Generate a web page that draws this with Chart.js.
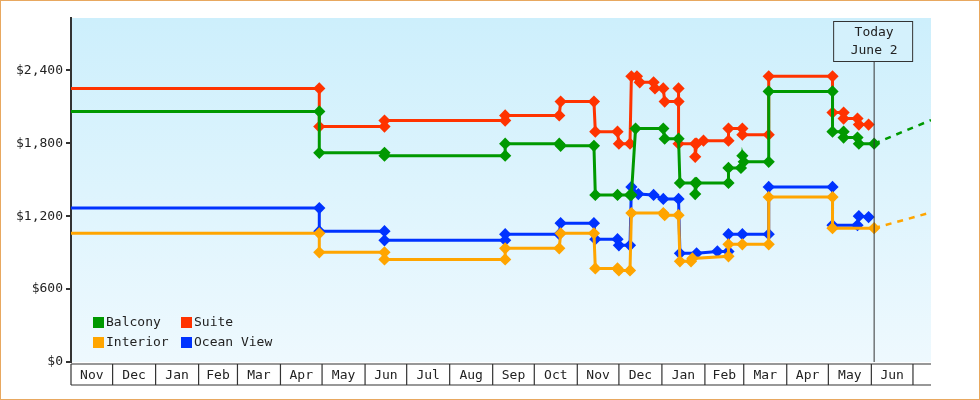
<!DOCTYPE html>
<html><head><meta charset="utf-8">
<script src="https://cdn.jsdelivr.net/npm/chart.js"></script>
<style>html,body{margin:0;padding:0;background:#fff}#w{width:978px;height:398px;border:1px solid #e8a860;position:relative}</style>
</head><body><div id="w"><canvas id="c" width="978" height="398"></canvas></div>
<script>
// x = days since Nov 1 of the first year, y = price in dollars
const monthLabels = ["Nov","Dec","Jan","Feb","Mar","Apr","May","Jun","Jul","Aug","Sep","Oct","Nov","Dec","Jan","Feb","Mar","Apr","May","Jun"];
const monthStarts = [0,30,61,92,120,151,181,212,242,273,304,334,365,395,426,457,485,516,546,577,607];
const todayDay = 579;
const balcony = [[0,2061],[179,2061],[179,1721],[226,1721],[226,1697],[313,1697],[313,1796],[352,1796],[353,1779],[377,1779],[378,1374],[394,1374],[403,1374],[404,1374],[407,1920],[427,1920],[428,1837],[438,1837],[439,1473],[450,1473],[450,1382],[451,1473],[474,1473],[474,1597],[483,1597],[484,1697],[485,1647],[503,1647],[503,2226],[549,2226],[549,1895],[557,1895],[557,1846],[567,1846],[568,1796],[579,1796]];
const suite = [[0,2251],[179,2251],[179,1937],[226,1937],[226,1986],[313,1986],[313,2028],[352,2028],[353,2143],[377,2143],[378,1895],[394,1895],[395,1796],[403,1796],[404,2350],[408,2350],[410,2301],[420,2301],[421,2251],[427,2251],[428,2143],[438,2143],[438,2251],[438,1796],[450,1796],[450,1688],[451,1796],[456,1821],[474,1821],[474,1920],[484,1920],[484,1870],[503,1870],[503,2350],[549,2350],[549,2052],[557,2052],[557,2003],[567,2003],[568,1953],[575,1953]];
const oceanView = [[0,1266],[179,1266],[179,1076],[226,1076],[226,1001],[313,1001],[313,1051],[352,1051],[353,1142],[377,1142],[378,1010],[394,1010],[395,960],[403,960],[404,1440],[409,1382],[420,1374],[427,1341],[438,1341],[439,894],[451,894],[466,910],[474,910],[474,1051],[484,1051],[503,1051],[503,1440],[549,1440],[549,1126],[567,1126],[568,1200],[575,1192]];
const interior = [[0,1059],[179,1059],[179,902],[226,902],[226,844],[313,844],[313,935],[352,935],[353,1059],[377,1059],[378,770],[394,770],[395,753],[403,753],[404,1225],[427,1225],[428,1208],[438,1208],[439,828],[447,828],[448,852],[474,869],[474,968],[484,968],[503,968],[503,1357],[549,1357],[549,1101],[579,1101]];
const balconyProj = [[579,1796],[620,1990]];
const interiorProj = [[579,1101],[620,1230]];
const yTicks = [0,600,1200,1800,2400];

const FONT = "'DejaVu Sans Mono', monospace";
const pts = a => a.map(p => ({x:p[0], y:p[1]}));
function ds(label, data, color){
  return {label, data:pts(data), borderColor:color, backgroundColor:color, borderWidth:3,
    pointStyle:'rectRot', pointRadius:c=>c.dataIndex===0?0:4, pointHoverRadius:4, tension:0};
}
function proj(data,color){
  return {label:'', data:pts(data), borderColor:color, borderWidth:2.5, borderDash:[6,6], pointRadius:0, tension:0};
}
const legendItems = [["Balcony","#009900",0,0],["Suite","#ff3300",1,0],["Interior","#ffa500",0,1],["Ocean View","#0033ff",1,1]];

const bgPlugin = {id:'bg', beforeDraw(ch){
  const {ctx, chartArea:a} = ch;
  const g = ctx.createLinearGradient(0,a.top,0,a.bottom);
  g.addColorStop(0,'#cdeffc'); g.addColorStop(1,'#eef9fe');
  ctx.fillStyle = g; ctx.fillRect(a.left,a.top,a.right-a.left,a.bottom-a.top);
}};
const deco = {id:'deco', afterDraw(ch){
  const {ctx, chartArea:a, scales:{x}} = ch;
  ctx.save();
  ctx.strokeStyle='#333'; ctx.lineWidth=1.2;
  const top=a.bottom+2, bot=a.bottom+23;
  ctx.beginPath(); ctx.moveTo(a.left,top); ctx.lineTo(a.right,top); ctx.moveTo(a.left,bot); ctx.lineTo(a.right,bot); ctx.stroke();
  ctx.font='13px '+FONT; ctx.fillStyle='#222'; ctx.textAlign='center'; ctx.textBaseline='middle';
  for(let i=0;i<monthStarts.length;i++){
    const px=x.getPixelForValue(monthStarts[i]);
    ctx.beginPath(); ctx.moveTo(px,top); ctx.lineTo(px,bot); ctx.stroke();
    if(i<monthLabels.length){
      const nx=x.getPixelForValue(monthStarts[i+1]);
      ctx.fillText(monthLabels[i],(px+nx)/2,(top+bot)/2+1);
    }
  }
  const tx=x.getPixelForValue(todayDay);
  ctx.strokeStyle='#333'; ctx.lineWidth=1;
  ctx.beginPath(); ctx.moveTo(tx,61); ctx.lineTo(tx,a.bottom); ctx.stroke();
  ctx.fillStyle='#d4f1fc'; ctx.fillRect(tx-40,20,79,41); ctx.strokeRect(tx-40.5,20.5,79,40);
  ctx.fillStyle='#222'; ctx.fillText('Today',tx,32); ctx.fillText('June 2',tx,50);
  ctx.textAlign='left';
  legendItems.forEach(([t,c,col,row])=>{
    const lx=a.left+22+col*88, ly=a.bottom-40+row*20;
    ctx.fillStyle=c; ctx.fillRect(lx,ly-5,11,11);
    ctx.fillStyle='#222'; ctx.fillText(t,lx+13,ly+1);
  });
  ctx.restore();
}};

new Chart(document.getElementById('c'),{
  type:'line',
  data:{datasets:[ds('Balcony',balcony,'#009900'),ds('Suite',suite,'#ff3300'),ds('Interior',interior,'#ffa500'),ds('Ocean View',oceanView,'#0033ff'),proj(balconyProj,'#009900'),proj(interiorProj,'#ffa500')]},
  options:{responsive:false,animation:false,events:[],
    layout:{padding:{top:17,right:48,bottom:37,left:0}},
    plugins:{legend:{display:false},tooltip:{enabled:false}},
    scales:{
      x:{type:'linear',min:0,max:620,display:false},
      y:{min:0,max:2830,afterBuildTicks(s){s.ticks=yTicks.map(v=>({value:v}));},
        afterFit(s){s.width=70;},
        border:{color:'#333',width:2},
        grid:{drawOnChartArea:false,tickLength:5,color:'#333',lineWidth:2},
        ticks:{color:'#222',font:{family:FONT,size:13},padding:3,callback:v=>'$'+v.toLocaleString('en-US')}}
    }},
  plugins:[bgPlugin,deco]
});
</script></body></html>
